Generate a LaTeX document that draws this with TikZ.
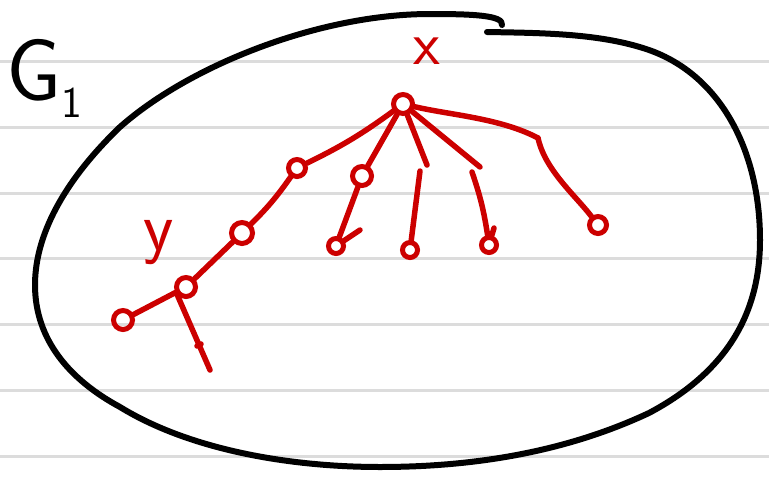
\documentclass[tikz,border=0pt]{standalone}
\definecolor{ink}{HTML}{CC0000}
\definecolor{rulegray}{HTML}{DCDCDC}
\begin{document}
\begin{tikzpicture}[x=1pt,y=-1pt,
  ruleline/.style={draw=rulegray,line width=3pt},
  outline/.style={draw=black,line width=6pt,line cap=round,line join=round},
  redline/.style={draw=ink,line width=5.5pt,line cap=round,line join=round},
  vtx/.style={circle,draw=ink,line width=5pt,inner sep=0pt,minimum size=#1},
  vtx/.default=16pt,
  lbl/.style={inner sep=0pt,font=\sffamily}]
\useasboundingbox (0,0) rectangle (769,477);
\fill[white] (0,0) rectangle (769,477);
\foreach \yy in {61,127,193,258,324,390,456}
  \draw[ruleline] (0,\yy) -- (769,\yy);

% outline of G1
\draw[outline] (502,25) .. controls (504,15) and (470,14) .. (430,14)
  .. controls (320,14) and (190,65) .. (120,127)
  .. controls (70,175) and (35,230) .. (35,285)
  .. controls (35,340) and (70,380) .. (120,407)
  .. controls (190,450) and (290,467) .. (380,467)
  .. controls (480,467) and (570,450) .. (649,413)
  .. controls (730,370) and (760,310) .. (760,240)
  .. controls (760,150) and (720,75) .. (649,50)
  .. controls (600,33) and (540,33) .. (487,32);

% labels
\node[lbl,anchor=base west] (g1) at (6,100)
  {\fontsize{88}{88}\selectfont G\raisebox{-17pt}{\fontsize{44}{44}\selectfont 1}};
\node[lbl,anchor=base,text=ink] (xl) at (427,64) {\fontsize{62}{62}\selectfont x};
\node[lbl,anchor=base west,text=ink] (yl) at (143,250) {\fontsize{70}{70}\selectfont y};

% vertices
\node[vtx=19pt] (r) at (403,104) {};
\node[vtx=17pt] (a) at (297,168) {};
\node[vtx=21pt] (b) at (242,233) {};
\node[vtx=19pt] (c) at (186,287) {};
\node[vtx=19pt] (d) at (123,320) {};
\node[vtx=19pt] (e) at (362,176) {};
\node[vtx=15pt] (f) at (336,246) {};
\node[vtx=15pt] (g) at (410,250) {};
\node[vtx=15pt] (h) at (489,245) {};
\node[vtx=17pt] (i) at (598,225) {};

\coordinate (s1) at (427,165);
\coordinate (s1b) at (420,171);
\coordinate (s2) at (480,167);
\coordinate (s2b) at (472,172);
\coordinate (k) at (538,138);
\coordinate (l) at (210,370);
\coordinate (lt) at (197,346);
\coordinate (ft) at (360,230);
\coordinate (ht) at (494,228);

% edges
\draw[redline] (r) to[bend left=5] (a);
\draw[redline] (a) to[bend left=5] (b);
\draw[redline] (b) -- (c);
\draw[redline] (c) -- (d);
\draw[redline] (c.south west) -- (l);
\draw[redline] (lt) -- ++(4,-2);
\draw[redline] (r) -- (e);
\draw[redline] (e) -- (f);
\draw[redline] (f) -- (ft);
\draw[redline] (r) -- (s1);
\draw[redline] (s1b) -- (g);
\draw[redline] (r) -- (s2);
\draw[redline] (s2b) to[bend left=5] (h);
\draw[redline] (h) -- (ht);
\draw[redline] (r) .. controls (450,115) and (500,118) .. (k);
\draw[redline] (k) .. controls (545,170) and (575,195) .. (i);
\end{tikzpicture}
\end{document}
